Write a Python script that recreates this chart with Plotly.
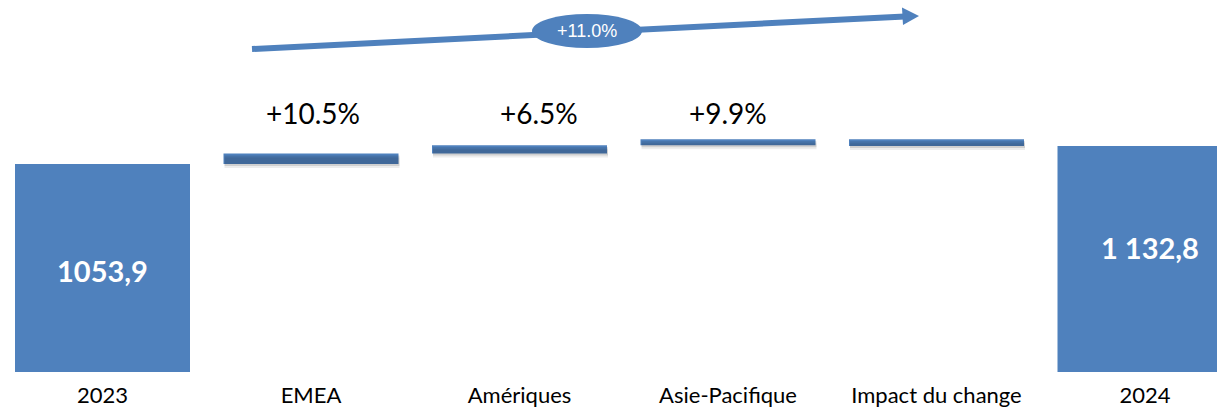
import plotly.graph_objects as go

# ---- data ----
categories = ["2023", "EMEA", "Amériques", "Asie-Pacifique", "Impact du change", "2024"]
measures = ["absolute", "relative", "relative", "relative", "relative", "total"]
values = [1053.9, 46.0, 37.0, 26.0, -30.1, 0]
pct_labels = ["", "+10.5%", "+6.5%", "+9.9%", "", ""]
total_labels = ["1053,9", "", "", "", "", "1 132,8"]
overall_growth = "+11.0%"

BLUE = "#4F81BD"
W, H = 1217, 408
PLOT_H = 372          # plot area height in px (bottom margin 36)
K = 4.4               # data units per pixel

# compute cumulative bases for shadows
xs = list(range(len(categories)))
cum = []
running = 0.0
for m, v in zip(measures, values):
    if m == "absolute":
        running = v
    elif m == "relative":
        running += v
    cum.append(running)

y0 = values[0] - (PLOT_H - 164) * K
y1 = y0 + PLOT_H * K

px_per_unit = 208.5
x0 = -102.5 / px_per_unit
x1 = x0 + W / px_per_unit
bw = 175 / px_per_unit

fig = go.Figure()

# soft shadows under the floating segments
for off, alpha in [(4, 0.07), (2, 0.12)]:
    sx, sb, sy = [], [], []
    prev = cum[0]
    for i, m in enumerate(measures):
        if m == "relative":
            lo = min(prev, cum[i])
            sx.append(xs[i] + 1.0 / px_per_unit)
            sb.append(lo - off * K)
            sy.append(abs(values[i]))
        prev = cum[i]
    fig.add_trace(go.Bar(x=sx, y=sy, base=sb, width=bw,
                         marker=dict(color=f"rgba(0,0,0,{alpha})", line=dict(width=0)),
                         hoverinfo="skip", showlegend=False))

fig.add_trace(go.Waterfall(
    x=xs, y=values, measure=measures, width=[bw] * len(xs),
    increasing=dict(marker=dict(color=BLUE, line=dict(width=0))),
    decreasing=dict(marker=dict(color=BLUE, line=dict(width=0))),
    totals=dict(marker=dict(color=BLUE, line=dict(width=0))),
    connector=dict(visible=False),
    showlegend=False, hoverinfo="skip",
))


def px(x):
    return x / W


def py(y):
    return 1 - y / PLOT_H


annotations = []
# percentage labels above segments
pct_x_px = [None, 313, 539, 728, None, None]
for i, t in enumerate(pct_labels):
    if t:
        annotations.append(dict(x=px(pct_x_px[i]), y=py(113), xref="paper", yref="paper",
                                text=t, showarrow=False, xanchor="center", yanchor="middle",
                                font=dict(family="Lato", size=28, color="#000000")))
# total labels inside bars
tot_pos = {0: (102, 270), 5: (1150, 247)}
for i, t in enumerate(total_labels):
    if t:
        annotations.append(dict(x=px(tot_pos[i][0]), y=py(tot_pos[i][1]), xref="paper", yref="paper",
                                text=f"<b>{t}</b>", showarrow=False, xanchor="center", yanchor="middle",
                                font=dict(family="Lato", size=29, color="#FFFFFF")))
# overall growth in ellipse
annotations.append(dict(x=px(587), y=py(31), xref="paper", yref="paper", text=overall_growth,
                        showarrow=False, xanchor="center", yanchor="middle",
                        font=dict(family="Liberation Sans", size=18, color="#FFFFFF")))

shapes = [
    # arrow shaft
    dict(type="line", xref="paper", yref="paper", x0=px(252), y0=py(49), x1=px(905), y1=py(16.5),
         line=dict(color=BLUE, width=6), layer="above"),
    # arrow head
    dict(type="path", xref="paper", yref="paper",
         path=f"M {px(902)} {py(7.5)} L {px(919)} {py(16)} L {px(903)} {py(25)} Z",
         fillcolor=BLUE, line=dict(width=0), layer="above"),
    # ellipse
    dict(type="circle", xref="paper", yref="paper", x0=px(532), x1=px(642), y0=py(14), y1=py(48),
         fillcolor=BLUE, line=dict(width=0), layer="above"),
]

fig.update_layout(
    width=W, height=H,
    margin=dict(l=0, r=0, t=0, b=H - PLOT_H),
    paper_bgcolor="white", plot_bgcolor="white",
    barmode="overlay",
    xaxis=dict(range=[x0, x1], tickvals=xs, ticktext=categories, showgrid=False, zeroline=False,
               showline=False, ticks="", tickfont=dict(family="Lato", size=22, color="#000000"),
               ticklabelstandoff=8, fixedrange=True),
    yaxis=dict(range=[y0, y1], visible=False, showgrid=False, zeroline=False, fixedrange=True),
    annotations=annotations,
    shapes=shapes,
    showlegend=False,
)

fig.write_html("out.html", config={"displayModeBar": False},
               post_script="document.body.style.margin='0';document.body.style.overflow='hidden';")
